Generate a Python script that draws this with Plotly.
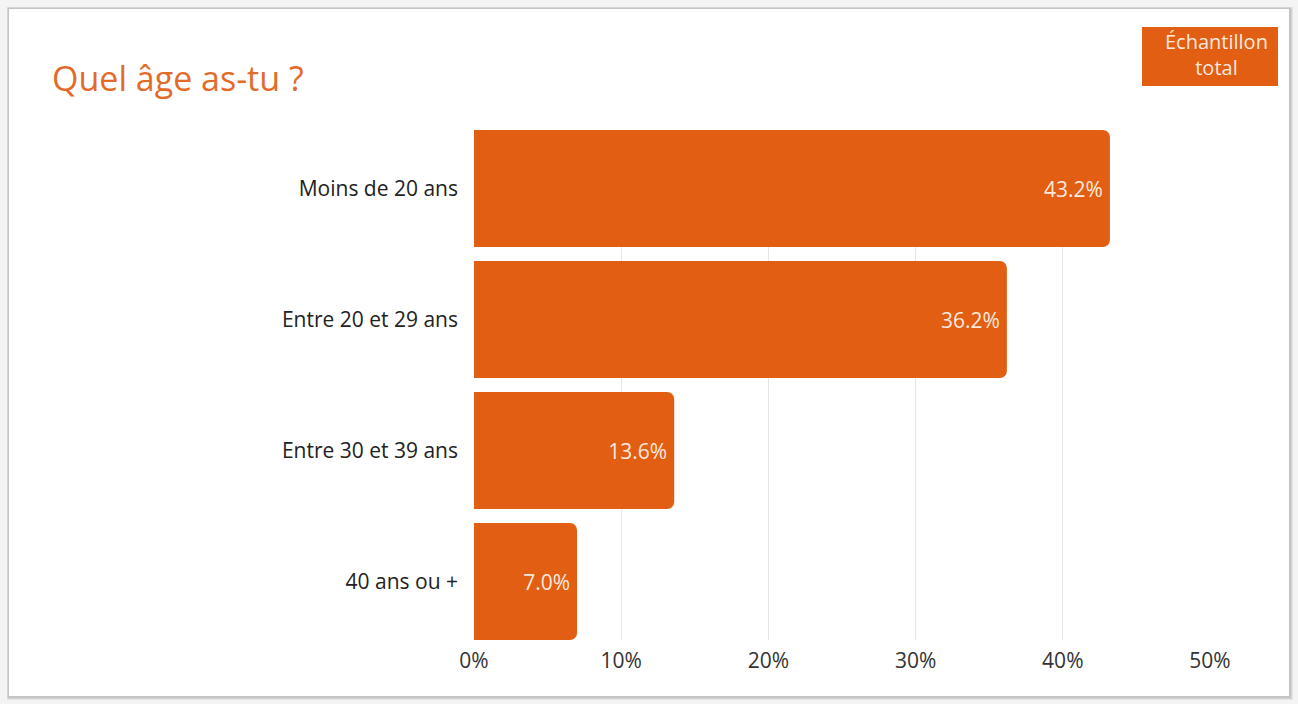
import plotly.graph_objects as go

categories = ["Moins de 20 ans", "Entre 20 et 29 ans", "Entre 30 et 39 ans", "40 ans ou +"]
values = [43.2, 36.2, 13.6, 7.0]
labels = ["43.2%", "36.2%", "13.6%", "7.0%"]
x_ticks = [0, 10, 20, 30, 40, 50]
x_ticktext = ["0%", "10%", "20%", "30%", "40%", "50%"]

BAR = "#E15E13"
TITLE = "#E36B2A"
W, H = 1298, 704
L, R, T, B = 474, 88, 130, 64
pw, ph = W - L - R, H - T - B

def px(x):
    return (x - L) / pw

def py(y):
    return 1 - (y - T) / ph

fig = go.Figure(go.Bar(
    y=categories, x=values, orientation="h",
    marker=dict(color=BAR, cornerradius=7, line=dict(width=0)),
    text=labels, textposition="inside", insidetextanchor="end",
    textfont=dict(color="#FBE9DF", size=21, family="Open Sans"),
    hoverinfo="skip",
))

shapes = []
# card shadow
for off, col in [(3, "#e4e4e4"), (2, "#d4d4d4"), (1, "#c4c4c4")]:
    shapes.append(dict(type="rect", xref="paper", yref="paper", layer="below",
                       x0=px(8 - off * 0.3), x1=px(1290 + off), y0=py(697 + off), y1=py(8 - off * 0.3),
                       fillcolor=col, line=dict(width=0)))
shapes.append(dict(type="rect", xref="paper", yref="paper", layer="below",
                   x0=px(9), x1=px(1289), y0=py(696), y1=py(9),
                   fillcolor="white", line=dict(width=0)))
# legend box
shapes.append(dict(type="rect", xref="paper", yref="paper",
                   x0=px(1142), x1=px(1278), y0=py(86), y1=py(27),
                   fillcolor=BAR, line=dict(width=0)))

annotations = [
    dict(text="Quel âge as-tu ?", xref="paper", yref="paper", x=px(50), y=py(78),
         xanchor="left", yanchor="middle", showarrow=False,
         font=dict(size=34, color=TITLE, family="Open Sans")),
    dict(text="Échantillon<br>total", xref="paper", yref="paper", x=px(1216), y=py(54),
         xanchor="center", yanchor="middle", showarrow=False, align="center",
         font=dict(size=20, color="#FBE9DF", family="Open Sans")),
]

step = 131
half = 117 / step / 2
fig.update_layout(
    width=W, height=H,
    margin=dict(l=L, r=R, t=T, b=B),
    paper_bgcolor="#f4f4f4", plot_bgcolor="white",
    showlegend=False,
    bargap=1 - 117 / step,
    shapes=shapes, annotations=annotations,
    font=dict(family="Open Sans", size=21, color="#222"),
    xaxis=dict(range=[0, 50], tickvals=x_ticks, ticktext=x_ticktext,
               showgrid=True, gridcolor="#e6e6e6", gridwidth=1, zeroline=False,
               showline=False, ticks="", ticklabelstandoff=6,
               tickfont=dict(size=21, color="#333"), fixedrange=True),
    yaxis=dict(type="category", categoryorder="array", categoryarray=categories,
               range=[len(categories) - 1 + half, -half],
               showgrid=False, zeroline=False, showline=False, ticks="",
               ticklabelstandoff=15, tickfont=dict(size=21, color="#222"), fixedrange=True),
)

fig.write_html("out.html")
